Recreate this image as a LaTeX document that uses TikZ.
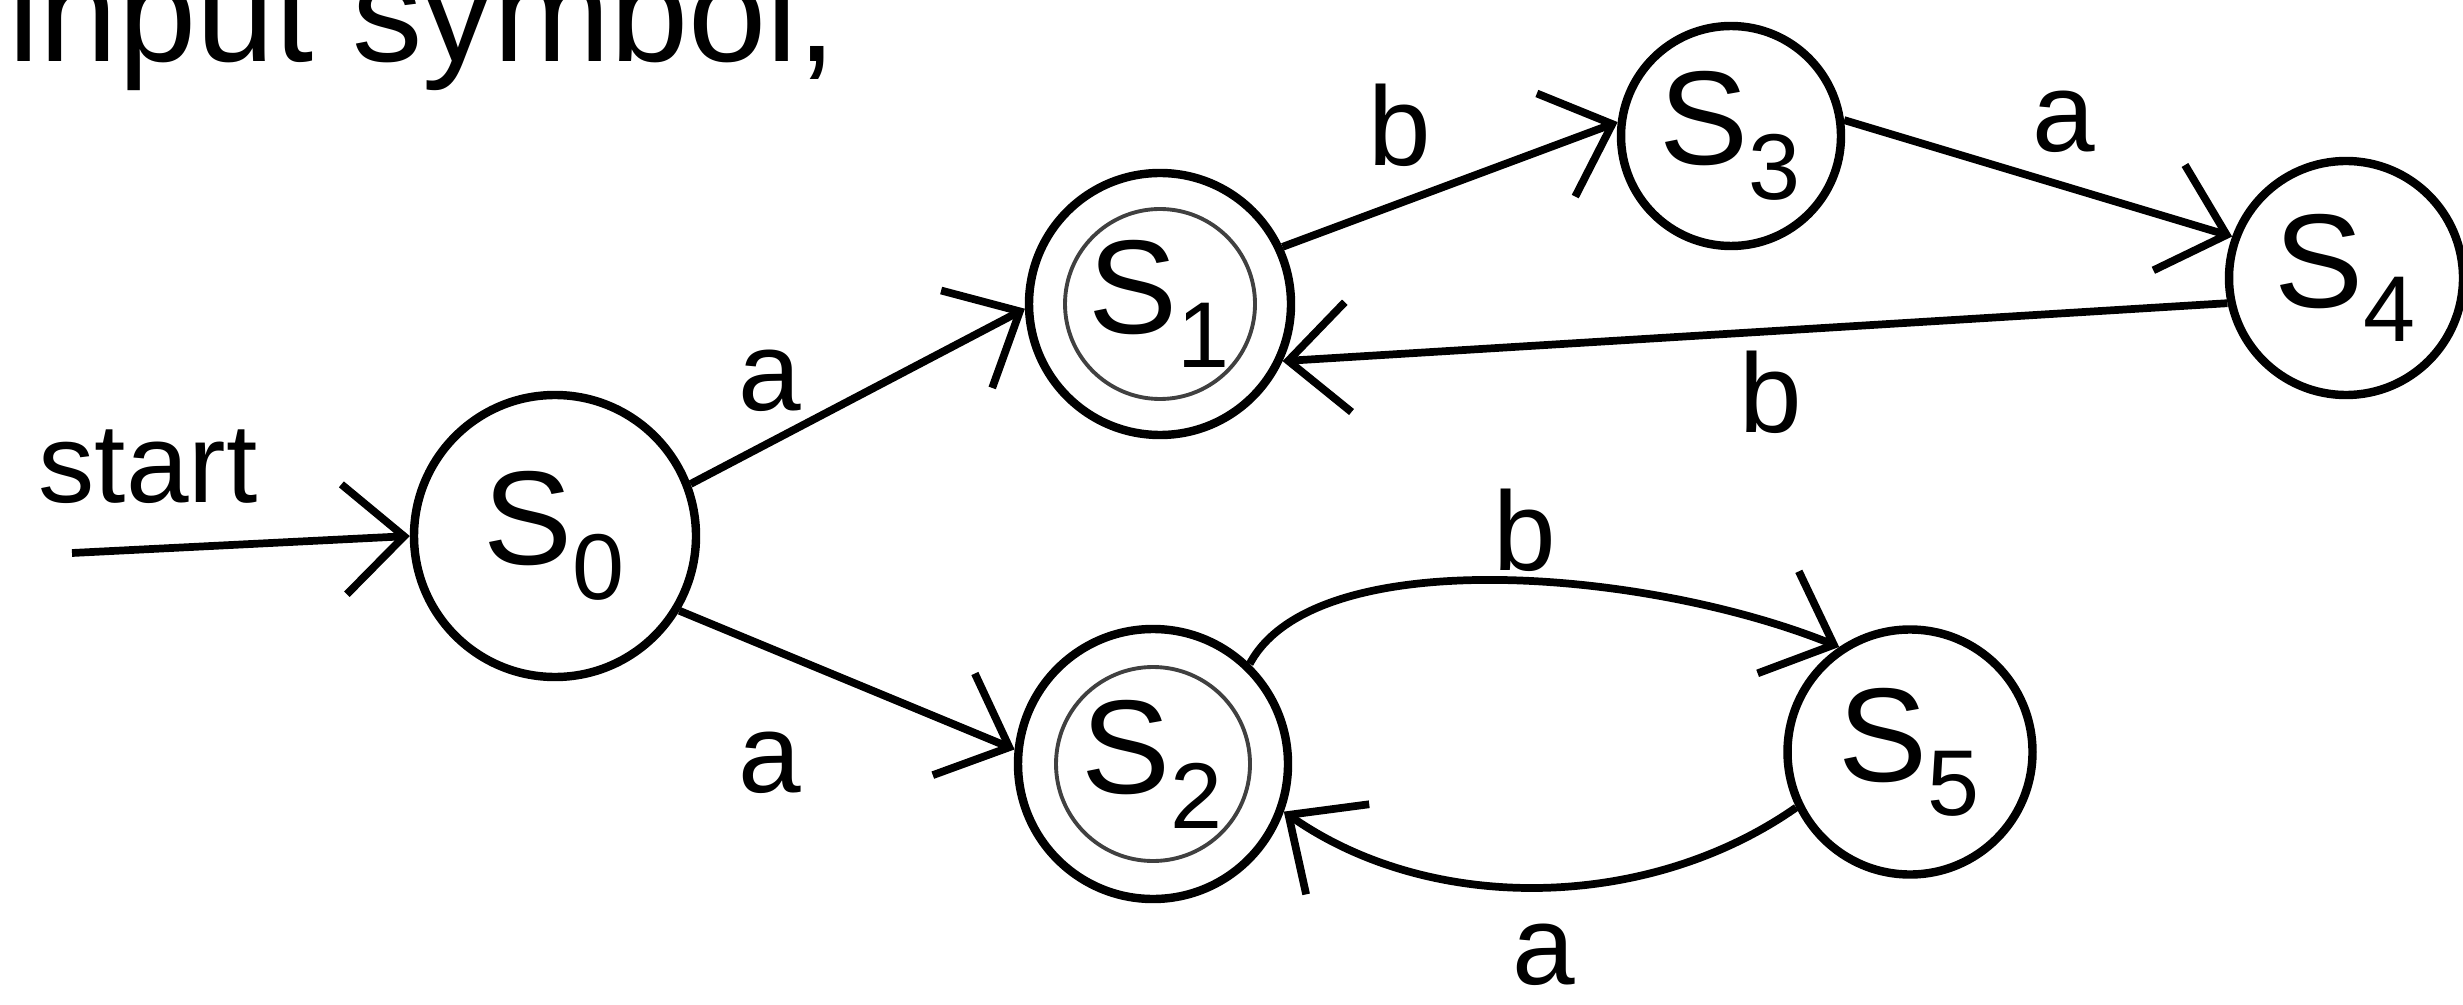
\documentclass[tikz,border=0pt]{standalone}
\usepackage{fontspec}
\setmainfont{Liberation Sans}
\usetikzlibrary{arrows.meta, positioning}

\begin{document}
\begin{tikzpicture}[
    dfastate/.style={circle, draw, line width=2.4pt, inner sep=0pt,
                     minimum size=#1, font=\fontsize{38}{40}\selectfont},
    dfastate/.default=2.5cm,
    accept/.style={path picture={\draw[line width=1.1pt, black!75]
                     (path picture bounding box.center) circle (#1);}},
    trans/.style={line width=2.2pt, -{Straight Barb[length=6mm, width=11mm]}},
    sym/.style={font=\fontsize{32}{34}\selectfont, inner sep=0pt}
]
    \clip (0,0) rectangle (24.63,-10.05);
    \fill[white] (0,0) rectangle (24.63,-10.05);

    % line of text above, cut off by the scan
    \node[anchor=base west, inner sep=0pt, font=\fontsize{40}{42}\selectfont]
        (head) at (0.08,-0.62) {input symbol,};

    \node[dfastate=2.82cm] (s0) at (5.55,-5.36) {S\textsubscript{0}};
    \node[dfastate=2.62cm, accept=0.95cm] (s1) at (11.60,-3.04) {S\textsubscript{1}};
    \node[dfastate=2.70cm, accept=0.97cm] (s2) at (11.53,-7.64) {S\textsubscript{2}};
    \node[dfastate=2.20cm] (s3) at (17.31,-1.36) {S\textsubscript{3}};
    \node[dfastate=2.34cm] (s4) at (23.46,-2.78) {S\textsubscript{4}};
    \node[dfastate=2.45cm] (s5) at (19.10,-7.52) {S\textsubscript{5}};

    \coordinate (start) at (0.72,-5.53);
    \node[sym, anchor=base] (startlbl) at (1.48,-5.03) {start};

    \draw[trans] (start) -- (s0.west);
    \draw[trans] (s0.21) -- (s1.182);
    \draw[trans] (s0.329) -- (s2.174);
    \draw[trans] (s1.25) -- (s3.173);
    \draw[trans] (s3.8) -- (s4.160);
    \draw[trans] (s4.192) -- (s1.335);
    \draw[trans] (s2.46) to[out=62, in=158, out looseness=0.6, in looseness=0.9] (s5.124);
    \draw[trans] (s5.206) to[out=215, in=-35, looseness=0.9] (s2.340);

    % input symbols
    \node[sym] (a01) at (7.70,-3.81) {a};
    \node[sym] (a02) at (7.70,-7.63) {a};
    \node[sym] (b13) at (14.00,-1.25) {b};
    \node[sym] (a34) at (20.64,-1.22) {a};
    \node[sym] (b41) at (17.71,-3.92) {b};
    \node[sym] (b25) at (15.25,-5.30) {b};
    \node[sym] (a52) at (15.44,-9.55) {a};

\end{tikzpicture}
\end{document}
